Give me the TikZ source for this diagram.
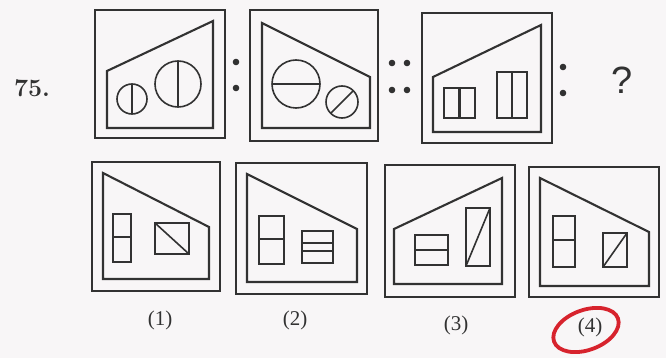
\documentclass[tikz,border=0pt]{standalone}
\usepackage{fontspec}
\newfontfamily\labelfont{Liberation Serif}
\newfontfamily\qfont{Liberation Sans}
\definecolor{ink}{RGB}{50,50,50}
\definecolor{paper}{RGB}{248,246,247}
\definecolor{pen}{RGB}{215,35,45}
\tikzset{
  outerbox/.style={draw=ink, line width=2.3pt},
  innerbox/.style={draw=ink, line width=2.1pt, line join=miter},
  figline/.style={draw=ink, line width=1.6pt},
  colondot/.style={fill=ink, draw=none},
  optlabel/.style={font=\labelfont\fontsize{21}{23}\selectfont, text=ink, inner sep=0pt},
}
\begin{document}
\begin{tikzpicture}[x=1pt,y=-1pt]
\fill[paper] (0,0) rectangle (666,358);
\useasboundingbox (0,0) rectangle (666,358);

% question number
\node[font=\fontsize{25}{28}\selectfont\bfseries, text=ink, inner sep=0pt] (qnum) at (32,88) {75.};

% ---------- Box 1 ----------
\draw[outerbox] (95,10) rectangle (225,138);
\draw[innerbox] (107,71) -- (213,21) -- (213,128) -- (107,128) -- cycle;
\draw[figline] (132,99) circle (15);
\draw[figline, line width=2.3pt] (132,84) -- (132,114);
\draw[figline] (178,84) circle (23);
\draw[figline] (178,61) -- (178,107);

% colon
\fill[colondot] (236,62) circle (3.3);
\fill[colondot] (236,88) circle (3.3);

% ---------- Box 2 ----------
\draw[outerbox] (250,10) rectangle (378,141);
\draw[innerbox] (262,23) -- (370,77) -- (370,128) -- (262,128) -- cycle;
\draw[figline] (296,84) circle (24);
\draw[figline] (272,84) -- (320,84);
\draw[figline] (342,102) circle (16);
\draw[figline] (342,102) ++(135:16) -- ++(-45:32);

% double colon
\fill[colondot] (392,63) circle (3.3);
\fill[colondot] (407,63) circle (3.3);
\fill[colondot] (392,90) circle (3.3);
\fill[colondot] (407,90) circle (3.3);

% ---------- Box 3 ----------
\draw[outerbox] (422,13) rectangle (552,143);
\draw[innerbox] (433,77) -- (541,25) -- (541,132) -- (433,132) -- cycle;
\draw[figline] (444,88) rectangle (475,118);
\draw[figline, line width=2.1pt] (459.5,88) -- (459.5,118);
\draw[figline] (497,72) rectangle (527,118);
\draw[figline, line width=2.1pt] (512,72) -- (512,118);

% colon
\fill[colondot] (563,67) circle (3.3);
\fill[colondot] (563,93) circle (3.3);

\node[font=\qfont\fontsize{38}{42}\selectfont, text=ink, inner sep=0pt] (qmark) at (622,80) {?};

% ---------- Option 1 ----------
\draw[outerbox] (92,162) rectangle (220,291);
\draw[innerbox] (103,173) -- (209,227) -- (209,279) -- (103,279) -- cycle;
\draw[figline] (113,214) rectangle (131,262);
\draw[figline] (113,237) -- (131,237);
\draw[figline] (155,223) rectangle (189,254);
\draw[figline] (155,223) -- (189,254);

% ---------- Option 2 ----------
\draw[outerbox] (236,163) rectangle (367,294);
\draw[innerbox] (247,174) -- (357,229) -- (357,282) -- (247,282) -- cycle;
\draw[figline] (259,216) rectangle (284,264);
\draw[figline] (259,239) -- (284,239);
\draw[figline] (302,231) rectangle (333,263);
\draw[figline] (302,243) -- (333,243);
\draw[figline] (302,251) -- (333,251);

% ---------- Option 3 ----------
\draw[outerbox] (385,165) rectangle (515,297);
\draw[innerbox] (394,229) -- (502,178) -- (502,284) -- (394,284) -- cycle;
\draw[figline] (415,235) rectangle (448,265);
\draw[figline] (415,250) -- (448,250);
\draw[figline] (466,208) rectangle (490,266);
\draw[figline] (466,266) -- (490,208);

% ---------- Option 4 ----------
\draw[outerbox] (529,167) rectangle (659,297);
\draw[innerbox] (540,178) -- (649,232) -- (649,286) -- (540,286) -- cycle;
\draw[figline] (553,216) rectangle (575,267);
\draw[figline] (553,240) -- (575,240);
\draw[figline] (603,233) rectangle (627,267);
\draw[figline] (603,267) -- (627,233);

% labels
\node[optlabel] (l1) at (160,320) {(1)};
\node[optlabel] (l2) at (295,320) {(2)};
\node[optlabel] (l3) at (456,325) {(3)};
\node[optlabel] (l4) at (590,327) {(4)};

% red answer mark
\draw[pen, line width=3.8pt, rotate around={20:(586,330)}] (586,330) ellipse [x radius=34, y radius=20];
\end{tikzpicture}
\end{document}
